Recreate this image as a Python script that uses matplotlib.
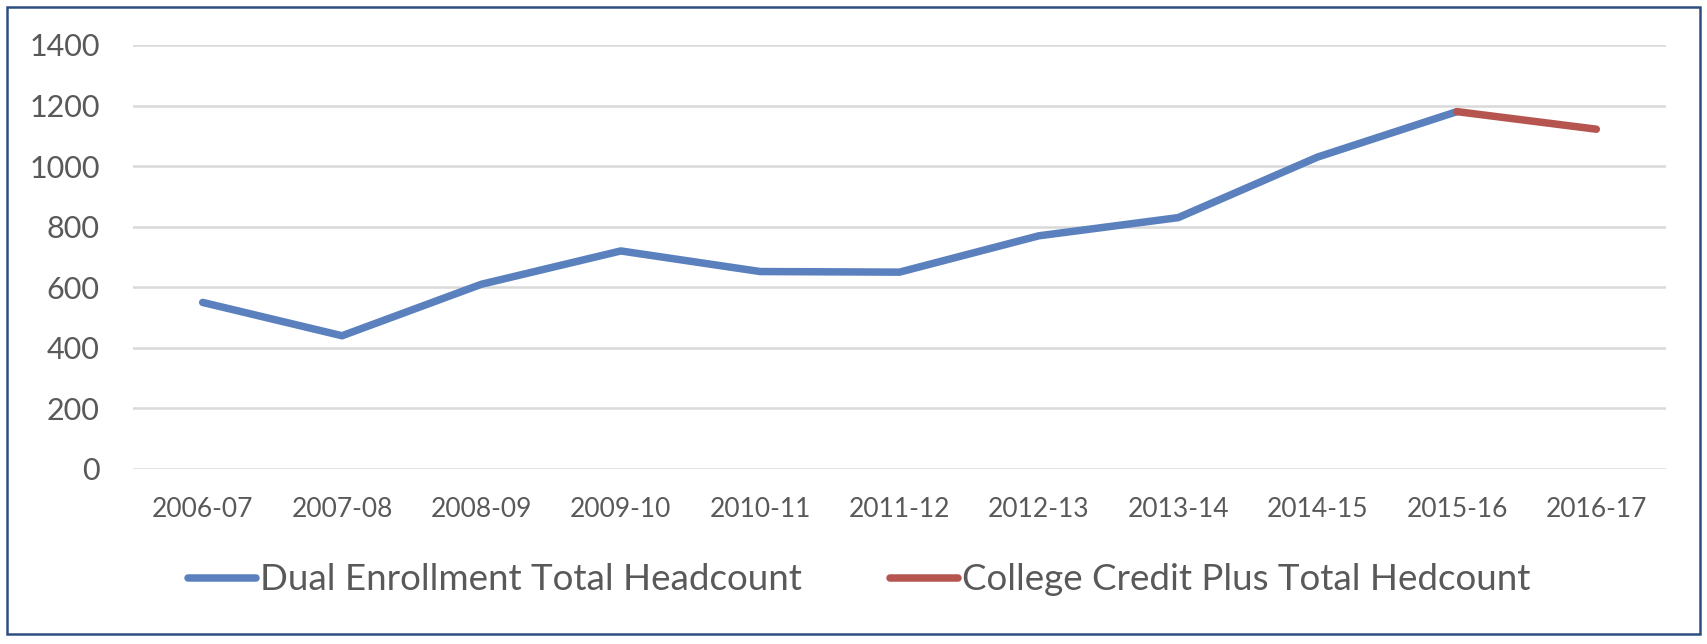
import matplotlib.pyplot as plt
from matplotlib.patches import Rectangle

# chart data
years = ['2006-07', '2007-08', '2008-09', '2009-10', '2010-11', '2011-12',
         '2012-13', '2013-14', '2014-15', '2015-16', '2016-17']
dual_headcount = [550, 440, 610, 720, 652, 650, 770, 830, 1030, 1180]
ccp_headcount = [1180, 1122]
ccp_years = years[9:]

blue = '#5A80BE'
red = '#B65550'
text_grey = '#595959'

plt.rcParams['font.family'] = ['Lato', 'DejaVu Sans']

fig = plt.figure(figsize=(17.08, 6.44), dpi=100)
ax = fig.add_axes([133 / 1708, 1 - 469 / 644, 1533 / 1708, 424 / 644])

x = list(range(len(years)))
ax.plot(x[:len(dual_headcount)], dual_headcount, color=blue, lw=5.4,
        solid_capstyle='round', solid_joinstyle='round', zorder=3,
        label='Dual Enrollment Total Headcount')
ax.plot([years.index(y) for y in ccp_years], ccp_headcount, color=red, lw=5.4,
        solid_capstyle='round', solid_joinstyle='round', zorder=3,
        label='College Credit Plus Total Hedcount')

ax.set_xlim(-0.5, len(years) - 0.5)
ax.set_ylim(0, 1400)
ax.set_yticks(range(0, 1401, 200))
ax.set_xticks(x)
ax.set_xticklabels(years)

ax.grid(axis='y', color='#D9D9D9', lw=1.8)
ax.set_axisbelow(True)
for s in ax.spines.values():
    s.set_visible(False)
ax.tick_params(axis='y', length=0, pad=24, labelsize=22, labelcolor=text_grey)
ax.tick_params(axis='x', length=0, pad=20, labelsize=19, labelcolor=text_grey)

fig.legend(loc='center', bbox_to_anchor=(0.503, 1 - 580 / 644), ncol=2,
           frameon=False, fontsize=26.5, handlelength=1.85, handletextpad=0.1,
           columnspacing=2.4, labelcolor=text_grey)

# outer chart border
fig.patches.append(Rectangle((7 / 1708, 1 - 634 / 644), 1693 / 1708, 627 / 644,
                             transform=fig.transFigure, fill=False,
                             edgecolor='#2F4E80', lw=1.8))

fig.savefig('out.png', dpi=100)
